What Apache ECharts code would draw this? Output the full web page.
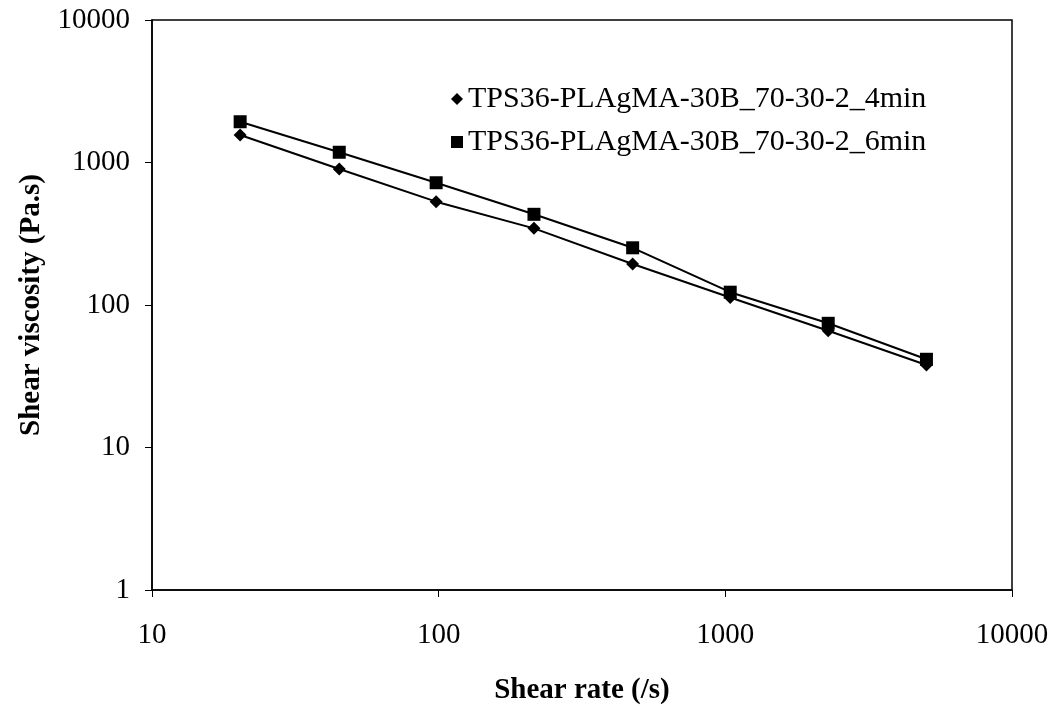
<!DOCTYPE html>
<html>
<head>
<meta charset="utf-8">
<title>Shear viscosity vs shear rate</title>
<script src="https://cdn.jsdelivr.net/npm/echarts@6/dist/echarts.min.js"></script>
<style>
  html, body { margin: 0; padding: 0; background: #fff; }
  #chart { width: 1056px; height: 706px; }
</style>
</head>
<body>
<div id="chart"></div>
<script>
// Shear rate (/s) at each measurement
const shearRate = [20.3, 45, 98, 215, 475, 1040, 2285, 5030];
// Shear viscosity (Pa.s) for each processing time
const visc4min = [1560, 900, 531, 345, 194, 113, 66, 37.9];
const visc6min = [1932, 1180, 721, 433, 252, 123, 74.4, 41.6];
const seriesNames = ['TPS36-PLAgMA-30B_70-30-2_4min', 'TPS36-PLAgMA-30B_70-30-2_6min'];

const FONT = '"Liberation Serif", "Times New Roman", serif';

function pairs(xs, ys) {
  return xs.map((x, i) => [x, ys[i]]);
}

const chart = echarts.init(document.getElementById('chart'));
chart.setOption({
  animation: false,
  backgroundColor: '#fff',
  grid: {
    left: 152, right: 44, top: 20, bottom: 116,
    containLabel: false, outerBoundsMode: 'none',
    show: true, borderColor: '#000', borderWidth: 1.5, backgroundColor: 'transparent'
  },
  legend: {
    orient: 'vertical',
    left: 446, top: 79,
    itemGap: 13,
    itemWidth: 12, itemHeight: 12,
    textStyle: { fontFamily: FONT, fontSize: 30, color: '#000' },
    data: [
      { name: seriesNames[0], icon: 'diamond' },
      { name: seriesNames[1], icon: 'rect' }
    ]
  },
  xAxis: {
    type: 'log', logBase: 10, min: 10, max: 10000,
    name: 'Shear rate (/s)', nameLocation: 'middle', nameGap: 86,
    nameTextStyle: { fontFamily: FONT, fontSize: 29, fontWeight: 'bold', color: '#000' },
    axisLine: { show: true, lineStyle: { color: '#000', width: 1.5 } },
    axisTick: { show: true, inside: false, length: 7, lineStyle: { color: '#000' } },
    minorTick: { show: false },
    splitLine: { show: false },
    axisLabel: {
      margin: 31, fontFamily: FONT, fontSize: 29, color: '#000',
      formatter: v => String(Math.round(v))
    }
  },
  yAxis: {
    type: 'log', logBase: 10, min: 1, max: 10000,
    name: 'Shear viscosity (Pa.s)', nameLocation: 'middle', nameGap: 106,
    nameTextStyle: { fontFamily: FONT, fontSize: 29, fontWeight: 'bold', color: '#000' },
    axisLine: { show: true, lineStyle: { color: '#000', width: 1.5 } },
    axisTick: { show: true, inside: false, length: 7, lineStyle: { color: '#000' } },
    splitLine: { show: false },
    axisLabel: {
      margin: 22, fontFamily: FONT, fontSize: 29, color: '#000',
      formatter: v => String(Math.round(v))
    }
  },
  series: [
    {
      name: seriesNames[0], type: 'line',
      data: pairs(shearRate, visc4min),
      symbol: 'diamond', symbolSize: 13,
      itemStyle: { color: '#000' },
      lineStyle: { color: '#000', width: 2 }
    },
    {
      name: seriesNames[1], type: 'line',
      data: pairs(shearRate, visc6min),
      symbol: 'rect', symbolSize: 13,
      itemStyle: { color: '#000' },
      lineStyle: { color: '#000', width: 2 }
    }
  ]
});
</script>
</body>
</html>
